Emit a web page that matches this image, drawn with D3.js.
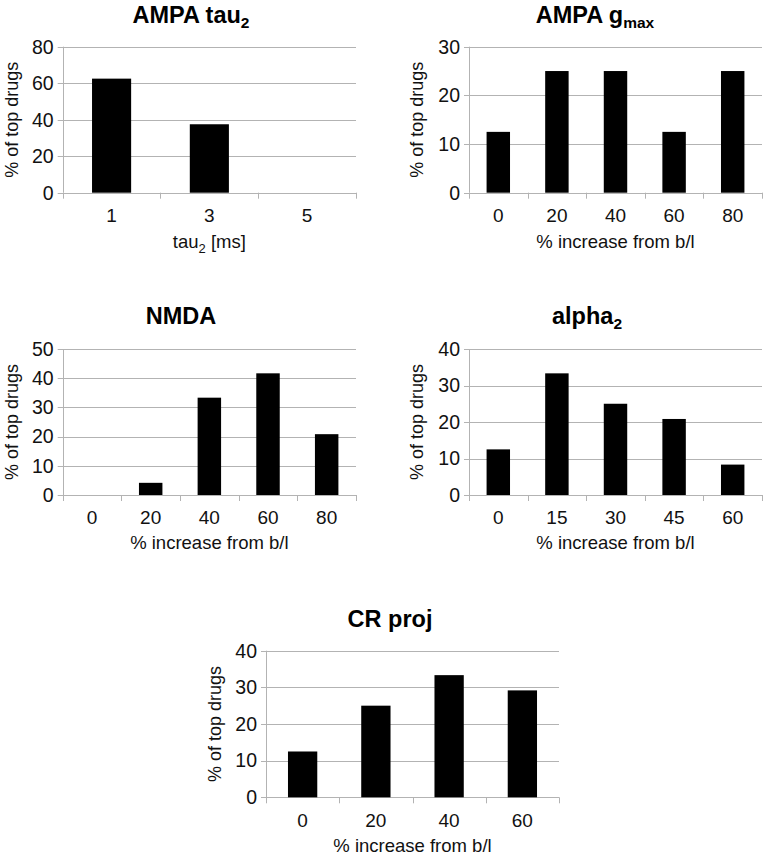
<!DOCTYPE html>
<html>
<head>
<meta charset="utf-8">
<script src="https://cdn.jsdelivr.net/npm/d3@7"></script>
<style>
  html, body { margin: 0; padding: 0; background: #fff; }
  svg { display: block; font-family: "Liberation Sans", Arial, sans-serif; }
</style>
</head>
<body>
<svg id="chart" width="768" height="857"></svg>
<script>
// ---- Data ----
const tauCats = ["1", "3", "5"];
const tauVals = [62.5, 37.5, 0];
const tauTicks = [0, 20, 40, 60, 80];

const gmaxCats = ["0", "20", "40", "60", "80"];
const gmaxVals = [12.5, 25, 25, 12.5, 25];
const gmaxTicks = [0, 10, 20, 30];

const nmdaCats = ["0", "20", "40", "60", "80"];
const nmdaVals = [0, 4.17, 33.33, 41.67, 20.83];
const nmdaTicks = [0, 10, 20, 30, 40, 50];

const alphaCats = ["0", "15", "30", "45", "60"];
const alphaVals = [12.5, 33.33, 25, 20.83, 8.33];
const alphaTicks = [0, 10, 20, 30, 40];

const crCats = ["0", "20", "40", "60"];
const crVals = [12.5, 25, 33.33, 29.17];
const crTicks = [0, 10, 20, 30, 40];

const yTitle = "% of top drugs";
const xTitleIncrease = "% increase from b/l";

// ---- Layout ----
const panels = [
  { title: [["AMPA tau", ""], ["2", "sub"]], xTitle: [["tau", ""], ["2", "sub"], [" [ms]", ""]],
    cats: tauCats, vals: tauVals, ticks: tauTicks,
    x0: 62.7, x1: 356, y0: 46.7, y1: 192.7, titleX: 191, titleY: 22.7, yTitleX: 12, tickY: 222, xTitleY: 248 },
  { title: [["AMPA g", ""], ["max", "sub"]], xTitle: [[xTitleIncrease, ""]],
    cats: gmaxCats, vals: gmaxVals, ticks: gmaxTicks,
    x0: 469, x1: 762, y0: 46.7, y1: 192.7, titleX: 595, titleY: 22.7, yTitleX: 417, tickY: 222, xTitleY: 248 },
  { title: [["NMDA", ""]], xTitle: [[xTitleIncrease, ""]],
    cats: nmdaCats, vals: nmdaVals, ticks: nmdaTicks,
    x0: 62.7, x1: 356, y0: 349, y1: 495, titleX: 181, titleY: 323.5, yTitleX: 12, tickY: 524, xTitleY: 549 },
  { title: [["alpha", ""], ["2", "sub"]], xTitle: [[xTitleIncrease, ""]],
    cats: alphaCats, vals: alphaVals, ticks: alphaTicks,
    x0: 469, x1: 762, y0: 349, y1: 495, titleX: 587, titleY: 323.5, yTitleX: 417, tickY: 524, xTitleY: 549 },
  { title: [["CR proj", ""]], xTitle: [[xTitleIncrease, ""]],
    cats: crCats, vals: crVals, ticks: crTicks,
    x0: 266, x1: 559, y0: 650.7, y1: 797.3, titleX: 390, titleY: 627, yTitleX: 215, tickY: 827, xTitleY: 852 }
];

const svg = d3.select("#chart");
const gridColor = "#b3b3b3";
const textColor = "#111";

function richText(sel, parts, mainSize, subSize) {
  let shifted = false;
  parts.forEach(([t, kind]) => {
    if (kind === "sub") {
      sel.append("tspan").attr("font-size", subSize).attr("dy", subSize * 0.35).text(t);
      shifted = true;
    } else {
      const ts = sel.append("tspan").attr("font-size", mainSize).text(t);
      if (shifted) { ts.attr("dy", -subSize * 0.35); shifted = false; }
    }
  });
}

panels.forEach(p => {
  const g = svg.append("g");
  const x = d3.scaleBand().domain(p.cats).range([p.x0, p.x1]).paddingInner(0.6).paddingOuter(0.3);
  const yMax = p.ticks[p.ticks.length - 1];
  const y = d3.scaleLinear().domain([0, yMax]).range([p.y1, p.y0]);

  // gridlines (with small outer tick to the left)
  g.append("g").selectAll("line").data(p.ticks).join("line")
    .attr("x1", p.x0 - 5).attr("x2", p.x1)
    .attr("y1", d => Math.round(y(d)) + 0.5).attr("y2", d => Math.round(y(d)) + 0.5)
    .attr("stroke", gridColor).attr("stroke-width", 1);

  // y axis line
  g.append("line")
    .attr("x1", Math.round(p.x0) + 0.5).attr("x2", Math.round(p.x0) + 0.5)
    .attr("y1", y(yMax)).attr("y2", y(0))
    .attr("stroke", gridColor).attr("stroke-width", 1);

  // x-axis category boundary ticks
  const bounds = d3.range(p.cats.length + 1).map(i => x.range()[0] + i * x.step());
  g.append("g").selectAll("line").data(bounds).join("line")
    .attr("x1", d => Math.round(d) + 0.5).attr("x2", d => Math.round(d) + 0.5)
    .attr("y1", y(0)).attr("y2", y(0) + 6)
    .attr("stroke", gridColor).attr("stroke-width", 1);

  // bars
  g.append("g").selectAll("rect").data(p.cats.map((c, i) => ({ c, v: p.vals[i] }))).join("rect")
    .attr("x", d => x(d.c)).attr("width", x.bandwidth())
    .attr("y", d => y(d.v)).attr("height", d => y(0) - y(d.v))
    .attr("fill", "#000");

  // y tick labels
  g.append("g").selectAll("text").data(p.ticks).join("text")
    .attr("x", p.x0 - 9).attr("y", d => y(d))
    .attr("dy", "0.35em").attr("text-anchor", "end")
    .attr("font-size", 19.5).attr("fill", textColor)
    .text(d => d);

  // x tick labels
  g.append("g").selectAll("text").data(p.cats).join("text")
    .attr("x", d => x(d) + x.bandwidth() / 2).attr("y", p.tickY)
    .attr("text-anchor", "middle").attr("font-size", 19).attr("fill", textColor)
    .text(d => d);

  // x title
  const xt = g.append("text").attr("x", (p.x0 + p.x1) / 2).attr("y", p.xTitleY)
    .attr("text-anchor", "middle").attr("fill", textColor);
  richText(xt, p.xTitle, 18.5, 13);

  // y title
  g.append("text")
    .attr("transform", `translate(${p.yTitleX + 6},${(p.y0 + p.y1) / 2}) rotate(-90)`)
    .attr("text-anchor", "middle").attr("font-size", 18).attr("fill", textColor)
    .text(yTitle);

  // chart title
  const tt = g.append("text").attr("x", p.titleX).attr("y", p.titleY)
    .attr("text-anchor", "middle").attr("font-weight", "bold").attr("fill", "#000");
  richText(tt, p.title, 23.5, 15.5);
});
</script>
</body>
</html>
